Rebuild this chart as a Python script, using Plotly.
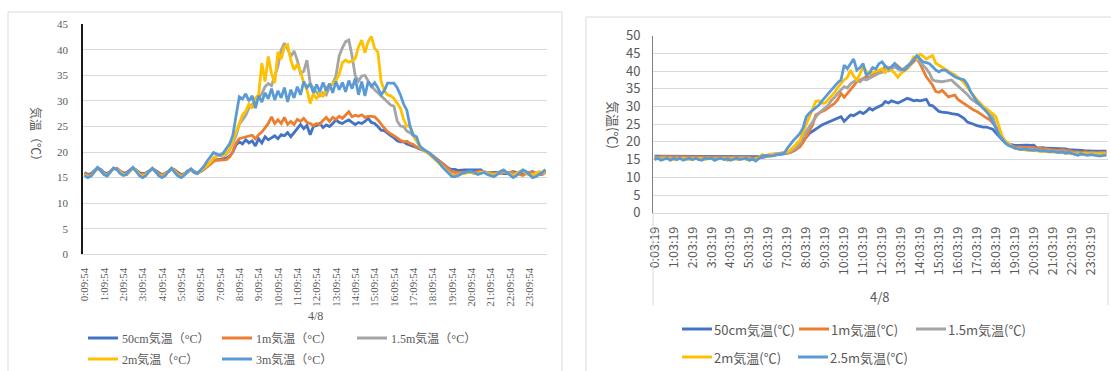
import plotly.graph_objects as go

W, H = 1111, 371

# ---------------- left chart: 4/8, 10-minute samples from 0:09:54 ----------------
left_times = [f"{h}:{m:02d}:54" for h in range(24) for m in (9, 19, 29, 39, 49, 59)]
left_ticks = [f"{h}:09:54" for h in range(24)]
left_names = ["50cm気温（°C）", "1m気温（°C）", "1.5m気温（°C）", "2m気温（°C）", "3m気温（°C）"]

left_50cm = [
    16.0, 15.6, 15.8, 16.4, 16.9, 16.6,
    16.0, 15.8, 16.2, 16.8, 16.8, 16.3,
    15.9, 16.0, 16.5, 16.9, 16.5, 16.0,
    15.8, 15.9, 16.3, 16.8, 16.4, 16.0,
    15.6, 15.8, 16.2, 16.8, 16.5, 16.0,
    15.6, 15.8, 16.3, 16.6, 16.2, 16.0,
    16.2, 16.6, 17.2, 17.6, 18.2, 18.5,
    18.6, 18.6, 18.8, 19.2, 20.0, 21.4,
    22.0, 21.6, 22.4, 21.8, 22.2, 21.2,
    22.6, 21.8, 23.0, 22.4, 22.8, 23.2,
    22.6, 23.4, 23.2, 23.8, 23.0, 23.9,
    24.6, 25.4, 24.6, 25.2, 23.4, 25.0,
    25.2, 25.6, 24.8, 25.3, 25.0, 25.6,
    26.3, 25.8, 25.6, 26.0, 26.3, 25.8,
    25.4, 25.8, 25.6, 26.0, 26.6, 25.8,
    25.6, 25.0, 24.3, 24.2, 23.6, 23.2,
    22.8, 22.2, 22.0, 22.0, 21.6, 21.4,
    21.2, 20.9, 20.6, 20.4, 20.1, 19.8,
    19.3, 18.8, 18.3, 17.8, 17.2, 16.8,
    16.6, 16.6, 16.4, 16.5, 16.5, 16.5,
    16.5, 16.5, 16.5, 16.5, 16.0, 16.0,
    16.0, 16.0, 16.0, 16.0, 15.8, 15.8,
    16.0, 16.2, 16.0, 15.8, 15.8, 15.8,
    16.0, 16.2, 15.8, 15.6, 15.8, 16.2,
]
left_1m = [
    15.8, 15.4, 15.6, 16.3, 16.9, 16.5,
    15.8, 15.6, 16.2, 16.8, 16.8, 16.2,
    15.7, 15.8, 16.4, 16.9, 16.4, 15.8,
    15.6, 15.8, 16.2, 16.8, 16.3, 15.8,
    15.5, 15.8, 16.2, 16.8, 16.4, 15.8,
    15.4, 15.7, 16.2, 16.6, 16.1, 15.9,
    16.2, 16.6, 17.1, 17.6, 18.2, 18.4,
    18.4, 18.4, 18.5, 19.0, 20.2, 21.8,
    22.6, 22.8, 23.0, 23.2, 23.3, 22.6,
    23.4, 23.9, 24.8, 25.6, 26.9, 25.6,
    26.3, 25.6, 26.8, 25.4, 26.0, 25.4,
    26.4, 26.0, 26.6, 25.8, 25.6, 25.2,
    25.6, 25.4, 26.2, 26.8, 26.0, 26.8,
    26.4, 27.0, 26.6, 27.3, 27.9, 26.9,
    27.2, 27.0, 27.3, 26.8, 27.0, 27.0,
    26.9, 26.3, 25.4, 24.7, 24.0, 23.6,
    23.3, 22.8, 22.3, 22.0, 22.1, 21.7,
    21.5, 21.0, 20.8, 20.4, 20.1, 19.8,
    19.3, 18.9, 18.4, 17.8, 17.2, 16.6,
    16.2, 16.0, 16.0, 16.0, 16.0, 16.0,
    16.0, 16.0, 16.2, 16.2, 16.0, 16.0,
    16.0, 15.8, 15.8, 15.8, 16.0, 16.0,
    16.0, 16.0, 15.8, 15.6, 15.4, 15.8,
    16.0, 16.0, 15.8, 15.6, 15.6, 16.0,
]
left_15m = [
    15.6, 15.2, 15.4, 16.2, 16.8, 16.4,
    15.7, 15.4, 16.0, 16.8, 16.6, 16.0,
    15.6, 15.6, 16.3, 16.9, 16.4, 15.6,
    15.3, 15.6, 16.2, 16.8, 16.2, 15.5,
    15.2, 15.6, 16.2, 16.8, 16.2, 15.5,
    15.2, 15.6, 16.1, 16.6, 16.0, 15.8,
    16.3, 16.8, 17.4, 18.0, 18.8, 19.2,
    19.4, 19.2, 19.6, 20.4, 21.8, 23.2,
    25.4, 26.3, 27.2, 28.6, 29.4, 30.0,
    30.6, 31.4, 32.8, 33.4, 33.0, 34.8,
    36.8, 40.0, 41.3, 40.2, 38.7, 39.8,
    38.0, 35.4, 35.8, 38.0, 33.5, 32.4,
    31.6, 31.0, 31.6, 31.2, 32.8, 33.4,
    34.9, 38.8, 40.4, 41.6, 41.9, 38.8,
    34.9, 33.9, 34.9, 35.0, 33.9, 33.0,
    32.2, 31.6, 31.0, 30.5, 30.0, 29.2,
    29.0, 26.1, 25.1, 25.0, 24.1, 23.8,
    23.2, 22.2, 21.2, 20.6, 20.1, 19.6,
    19.0, 18.5, 17.9, 17.2, 16.6, 16.0,
    15.6, 15.4, 15.5, 15.8, 16.0, 16.0,
    16.0, 15.8, 15.8, 16.0, 16.2, 16.0,
    15.8, 15.6, 15.8, 16.0, 16.2, 16.0,
    15.8, 15.6, 15.6, 16.0, 16.2, 15.8,
    15.6, 15.6, 15.8, 16.0, 15.8, 16.4,
]
left_2m = [
    15.6, 15.2, 15.4, 16.2, 16.8, 16.4,
    15.7, 15.4, 16.0, 16.8, 16.6, 16.0,
    15.6, 15.6, 16.3, 16.9, 16.4, 15.6,
    15.3, 15.6, 16.2, 16.8, 16.2, 15.5,
    15.2, 15.6, 16.2, 16.8, 16.2, 15.5,
    15.2, 15.6, 16.1, 16.6, 16.0, 15.8,
    16.3, 16.8, 17.4, 18.0, 18.8, 19.3,
    19.4, 19.3, 19.8, 20.6, 22.4, 24.0,
    25.6, 27.3, 28.0, 29.4, 28.6, 30.6,
    31.2, 37.4, 33.8, 38.7, 35.4, 33.5,
    39.6, 38.2, 40.6, 41.0, 38.0, 36.1,
    37.2, 35.8, 33.5, 32.2, 29.5, 31.4,
    30.4, 31.6, 30.8, 32.6, 33.0, 33.4,
    34.0, 35.2, 37.5, 38.0, 37.6, 37.8,
    38.3, 40.6, 41.9, 39.4, 41.6, 42.6,
    40.3, 39.6, 33.9, 32.0, 31.2, 31.0,
    30.5, 29.6, 28.6, 26.4, 25.1, 25.1,
    23.3, 22.4, 21.0, 20.5, 20.1, 19.6,
    19.0, 18.4, 17.8, 17.0, 16.4, 15.8,
    15.4, 15.4, 15.6, 15.8, 15.8, 16.0,
    16.0, 15.8, 15.8, 16.0, 16.0, 15.8,
    15.6, 15.6, 15.8, 16.2, 16.4, 16.0,
    15.6, 15.4, 15.8, 16.2, 16.4, 16.0,
    15.6, 15.6, 15.8, 16.2, 16.0, 16.0,
]
left_3m = [
    15.4, 15.0, 15.3, 16.2, 17.0, 16.4,
    15.6, 15.3, 16.0, 16.9, 16.6, 15.8,
    15.4, 15.6, 16.4, 17.0, 16.2, 15.4,
    15.0, 15.4, 16.2, 16.8, 16.2, 15.4,
    15.0, 15.4, 16.2, 16.8, 16.0, 15.3,
    15.0, 15.5, 16.2, 16.7, 16.0, 15.8,
    16.5, 17.2, 18.2, 19.0, 19.9, 19.6,
    19.4, 19.8, 20.7, 21.6, 23.3, 27.4,
    30.8, 30.4, 31.4, 30.0, 31.0, 28.6,
    31.0, 29.8, 31.6, 30.4, 32.4, 30.2,
    32.0, 30.6, 32.6, 29.8, 32.2, 30.6,
    32.8, 31.2, 33.8, 32.6, 33.4, 31.6,
    33.2, 31.8, 33.6, 32.0, 33.4, 31.6,
    33.8, 32.2, 33.6, 31.8, 34.0, 32.4,
    34.4, 31.2, 33.8, 31.0, 33.8, 32.8,
    33.6, 32.6, 31.2, 32.0, 33.5, 33.5,
    33.5, 32.6, 31.2, 29.4, 28.2, 25.0,
    23.3, 23.0, 21.2, 20.6, 20.2, 19.8,
    19.2, 18.6, 18.0, 17.1, 16.4, 15.8,
    15.2, 15.2, 15.4, 15.8, 16.0, 16.2,
    16.2, 16.0, 15.6, 15.8, 16.0, 15.6,
    15.4, 15.2, 15.6, 16.2, 16.5, 16.0,
    15.4, 15.0, 15.4, 16.0, 16.5, 16.2,
    15.6, 15.0, 15.2, 15.6, 16.0, 16.6,
]

# ---------------- right chart: 4/8, 10-minute samples from 0:03:19 ----------------
right_times = [f"{h}:{m:02d}:19" for h in range(24) for m in (3, 13, 23, 33, 43, 53)]
right_ticks = [f"{h}:03:19" for h in range(24)]
right_names = ["50cm気温(℃)", "1m気温(℃)", "1.5m気温(℃)", "2m気温(℃)", "2.5m気温(℃)"]

right_50cm = [
    16.0, 16.0, 16.0, 16.0, 16.0, 16.0,
    16.0, 16.0, 16.0, 16.0, 15.8, 16.0,
    16.0, 16.0, 16.0, 16.0, 16.0, 16.0,
    16.0, 16.0, 16.0, 15.8, 16.0, 16.0,
    16.0, 16.0, 16.0, 16.0, 16.0, 16.0,
    16.0, 16.0, 15.8, 15.8, 15.6, 15.8,
    16.2, 16.2, 16.4, 16.4, 16.4, 16.6,
    16.8, 17.0, 17.4, 18.0, 19.1, 20.2,
    21.4, 22.4, 23.0, 23.6, 24.3, 24.8,
    25.2, 25.6, 26.0, 26.4, 26.8, 27.1,
    25.8, 26.8, 27.6, 27.4, 28.0, 28.5,
    28.0, 28.6, 29.5, 29.0, 29.6, 30.0,
    30.4, 31.4, 31.0, 31.6, 31.4, 31.0,
    31.4, 31.8, 32.3, 32.0, 31.6, 31.8,
    31.6, 31.8, 32.0, 30.4, 30.2, 29.4,
    28.6, 28.4, 28.4, 28.2, 28.0, 27.8,
    27.7, 27.2, 26.6, 25.6, 25.4, 25.0,
    24.6, 24.3, 24.2, 24.2, 24.0, 23.6,
    22.6, 21.6, 20.6, 19.7, 19.4, 19.1,
    19.0, 19.0, 19.1, 19.1, 19.1, 19.0,
    19.1, 18.3, 18.4, 18.4, 18.2, 18.2,
    18.1, 18.1, 18.0, 18.2, 18.0, 17.8,
    17.8, 17.7, 17.6, 17.6, 17.5, 17.4,
    17.4, 17.4, 17.4, 17.4, 17.4, 17.4,
]
right_1m = [
    15.8, 15.6, 15.8, 15.8, 15.6, 15.8,
    15.8, 15.8, 15.6, 15.8, 15.8, 15.6,
    15.8, 15.8, 15.8, 15.6, 15.8, 15.8,
    15.6, 15.8, 15.8, 15.8, 15.6, 15.8,
    15.8, 15.6, 15.8, 15.8, 15.6, 15.6,
    15.6, 15.4, 15.4, 15.6, 16.0, 16.2,
    16.2, 16.4, 16.6, 16.6, 16.6, 16.8,
    16.8, 17.0, 17.6, 18.2, 18.6, 19.8,
    21.4, 23.2, 24.8, 27.6, 28.2, 28.6,
    29.0, 29.6, 30.2, 30.9, 32.0, 33.7,
    32.6, 33.6, 34.6, 35.8, 37.0, 37.4,
    38.0, 38.4, 38.2, 39.0, 39.4, 39.8,
    40.0, 41.4, 40.8, 41.2, 42.1, 41.4,
    40.6, 40.2, 40.7, 41.8, 42.6, 43.5,
    42.1, 40.0, 38.4, 37.2, 36.0, 34.2,
    34.0, 34.6, 33.6, 32.7, 33.0, 33.2,
    32.0, 31.4, 30.6, 30.0, 29.6, 29.0,
    28.6, 28.0, 27.2, 26.8, 26.3, 25.4,
    24.4, 22.6, 21.2, 20.2, 19.4, 18.8,
    18.6, 18.6, 18.6, 18.6, 18.5, 18.5,
    18.4, 18.2, 18.2, 18.0, 18.0, 17.9,
    17.8, 17.8, 17.6, 17.8, 17.6, 17.4,
    17.4, 17.2, 17.2, 17.0, 17.2, 17.0,
    17.0, 17.0, 16.8, 17.0, 17.0, 17.0,
]
right_15m = [
    15.4, 15.6, 15.4, 15.6, 15.4, 15.4,
    15.6, 15.4, 15.4, 15.6, 15.4, 15.6,
    15.4, 15.6, 15.6, 15.4, 15.4, 15.6,
    15.4, 15.4, 15.6, 15.4, 15.6, 15.4,
    15.6, 15.4, 15.6, 15.4, 15.4, 15.2,
    15.4, 15.2, 15.0, 15.4, 15.8, 16.2,
    16.2, 16.4, 16.5, 16.6, 16.8, 17.0,
    16.8, 17.2, 17.8, 18.6, 19.6, 21.6,
    23.0, 24.3, 25.8, 27.0, 28.1, 28.8,
    29.6, 30.4, 31.8, 32.6, 33.8, 34.6,
    35.6, 35.2, 36.4, 37.0, 37.5, 37.0,
    37.8, 37.5, 38.0, 38.4, 38.8, 39.4,
    39.6, 40.2, 40.0, 40.6, 41.2, 40.6,
    40.2, 40.8, 41.6, 42.4, 43.0, 43.5,
    42.6, 41.8, 40.7, 39.4, 37.5, 37.2,
    37.0, 37.0, 37.2, 37.4, 37.5, 36.6,
    35.8, 35.2, 34.2, 33.4, 32.3, 31.6,
    31.0, 30.5, 29.8, 29.0, 28.2, 27.2,
    24.4, 22.8, 21.4, 20.2, 19.4, 18.8,
    18.2, 18.2, 18.0, 18.0, 18.0, 18.0,
    17.8, 17.8, 17.6, 17.6, 17.6, 17.4,
    17.4, 17.4, 17.2, 17.4, 17.2, 17.0,
    17.0, 16.8, 17.0, 16.8, 16.6, 16.8,
    16.8, 16.6, 16.8, 16.6, 16.8, 16.8,
]
right_2m = [
    15.2, 15.4, 15.0, 15.4, 15.2, 15.4,
    15.0, 15.4, 15.2, 15.4, 15.2, 15.0,
    15.4, 15.2, 15.4, 15.2, 15.0, 15.4,
    15.2, 15.0, 15.4, 15.2, 15.4, 14.8,
    15.2, 15.4, 15.0, 15.2, 15.4, 15.0,
    15.2, 15.0, 15.2, 15.4, 16.4, 16.0,
    16.0, 16.6, 16.2, 16.4, 16.6, 16.8,
    17.2, 17.7, 18.6, 19.4, 20.5, 22.8,
    25.0, 27.1, 29.4, 31.4, 31.6, 30.9,
    31.0, 32.0, 33.2, 34.0, 35.4, 36.5,
    37.5, 38.2, 40.3, 38.6, 37.5, 39.2,
    41.2, 40.0, 39.4, 39.6, 40.0, 40.3,
    40.6, 39.6, 40.8, 40.2, 39.4, 38.2,
    39.4, 40.0, 40.8, 42.4, 44.0, 43.4,
    44.8, 44.2, 43.4, 44.0, 44.4, 42.2,
    41.6, 41.2, 40.4, 40.0, 39.4, 39.0,
    38.4, 37.6, 36.6, 35.4, 34.2, 33.0,
    31.9, 31.0, 30.0, 29.4, 28.6, 28.0,
    27.2, 24.4, 21.6, 20.2, 19.4, 18.8,
    18.2, 18.0, 17.8, 17.8, 17.6, 17.6,
    17.6, 17.4, 17.4, 17.2, 17.4, 17.2,
    17.2, 17.0, 17.0, 17.0, 16.8, 16.8,
    16.8, 16.6, 16.6, 16.4, 16.8, 16.6,
    16.6, 16.4, 16.6, 16.4, 16.6, 16.6,
]
right_25m = [
    15.0, 15.4, 14.8, 15.2, 15.4, 14.8,
    15.4, 15.0, 15.4, 14.8, 15.2, 15.4,
    15.0, 15.4, 15.0, 14.8, 15.4, 15.2,
    15.4, 14.8, 15.2, 15.4, 15.0, 15.2,
    14.8, 15.2, 15.4, 15.0, 15.2, 15.4,
    14.8, 15.2, 14.6, 15.4, 16.0, 16.2,
    16.0, 16.0, 16.2, 16.4, 16.6, 16.8,
    18.2, 19.4, 20.5, 21.4, 22.4, 24.0,
    27.1, 28.2, 29.0, 29.6, 30.4, 31.6,
    32.7, 33.8, 34.8, 36.0, 36.8, 37.5,
    41.7, 40.7, 42.0, 43.4, 40.3, 41.0,
    42.1, 38.8, 39.4, 41.0, 40.6, 42.1,
    42.6, 41.4, 40.7, 41.2, 42.1, 41.0,
    40.6, 40.3, 41.2, 42.1, 43.2, 44.4,
    43.4, 42.6, 42.4, 42.1, 41.2, 40.3,
    39.8, 40.3, 40.3, 39.6, 39.0, 38.4,
    38.0, 37.8, 37.5, 36.2, 34.2, 32.8,
    31.4, 30.4, 29.6, 28.6, 27.4, 25.8,
    23.9, 22.0, 20.8, 19.7, 19.0, 18.6,
    18.2, 18.0, 17.8, 18.0, 17.8, 17.6,
    17.6, 17.8, 17.4, 17.6, 17.4, 17.2,
    17.4, 17.2, 17.0, 17.2, 16.8, 17.0,
    16.8, 16.6, 16.2, 16.6, 16.4, 16.2,
    16.4, 16.2, 16.2, 16.0, 16.2, 16.2,
]

colors = ["#4472C4", "#ED7D31", "#A5A5A5", "#FFC000", "#5B9BD5"]
left_series = [left_50cm, left_1m, left_15m, left_2m, left_3m]
right_series = [right_50cm, right_1m, right_15m, right_2m, right_25m]

SERIF = "Liberation Serif, Noto Sans CJK JP, serif"
SANS = "Noto Sans CJK JP, Noto Sans, sans-serif"
GRID = "#d9d9d9"
TXT = "#595959"


def px(x):
    return x / W


def py(y):
    return 1 - y / H


fig = go.Figure()
for name, vals, c in zip(left_names, left_series, colors):
    fig.add_trace(go.Scatter(x=left_times, y=vals, name=name, mode="lines",
                             line=dict(color=c, width=2.8), xaxis="x", yaxis="y",
                             showlegend=False))
for name, vals, c in zip(right_names, right_series, colors):
    fig.add_trace(go.Scatter(x=right_times, y=vals, name=name, mode="lines",
                             line=dict(color=c, width=2.8), xaxis="x2", yaxis="y2",
                             showlegend=False))

fig.update_layout(
    width=W, height=H, margin=dict(l=0, r=0, t=0, b=0, autoexpand=False),
    paper_bgcolor="white", plot_bgcolor="white",
    xaxis=dict(domain=[px(83), px(547)], type="category", range=[-0.5, 143.5],
               tickmode="array", tickvals=left_ticks, ticktext=left_ticks,
               tickangle=-90, showgrid=False, showline=True, linecolor=GRID,
               linewidth=1, ticks="", ticklabelstandoff=8, automargin=False,
               tickfont=dict(family=SERIF, size=11, color=TXT)),
    yaxis=dict(domain=[py(254.3), py(24.3)], range=[0, 45], dtick=5,
               showgrid=True, gridcolor=GRID, gridwidth=1, zeroline=False,
               showline=True, linecolor="#1a1a1a", linewidth=1.6, ticks="",
               ticklabelstandoff=11, automargin=False,
               tickfont=dict(family=SERIF, size=11, color=TXT)),
    xaxis2=dict(domain=[px(653), px(1108)], type="category", range=[-0.5, 143.5],
                tickmode="array", tickvals=right_ticks, ticktext=right_ticks,
                tickangle=-90, showgrid=False, showline=True, linecolor=GRID,
                linewidth=1, ticks="", ticklabelstandoff=8, anchor="y2",
                automargin=False,
                tickfont=dict(family=SANS, size=12.5, color=TXT)),
    yaxis2=dict(domain=[py(212.7), py(35.7)], range=[0, 50], dtick=5, anchor="x2",
                showgrid=True, gridcolor=GRID, gridwidth=1, zeroline=False,
                showline=True, linecolor="#7f7f7f", linewidth=1, ticks="",
                ticklabelstandoff=9, automargin=False,
                tickfont=dict(family=SANS, size=13, color=TXT)),
)

shapes = [
    # chart frames
    dict(type="rect", xref="paper", yref="paper", x0=px(8), x1=px(562),
         y0=py(385), y1=py(12), line=dict(color=GRID, width=1)),
    dict(type="rect", xref="paper", yref="paper", x0=px(586), x1=px(1125),
         y0=py(385), y1=py(17), line=dict(color=GRID, width=1)),
    # plot-area border below the right chart's axis
    dict(type="line", xref="paper", yref="paper", x0=px(653), x1=px(653),
         y0=py(305), y1=py(212.7), line=dict(color=GRID, width=1)),
    dict(type="line", xref="paper", yref="paper", x0=px(1108), x1=px(1108),
         y0=py(305), y1=py(212.7), line=dict(color=GRID, width=1)),
]


def label(text, x, y, family, size, angle=0, xanchor="center"):
    return dict(text=text, x=px(x), y=py(y), xref="paper", yref="paper",
                xanchor=xanchor, yanchor="middle", textangle=angle,
                showarrow=False, font=dict(family=family, size=size, color=TXT))


annotations = [
    label("気温（℃）", 36, 137, SERIF, 12, angle=90),
    label("気温(℃)", 614, 125, SANS, 13, angle=90),
    label("4/8", 315, 316, SERIF, 12),
    label("4/8", 880, 296, SANS, 13),
]

# legend keys and labels
left_key_pos = [(88, 338), (222, 338), (357, 338), (88, 359), (222, 359)]
right_key_pos = [(682, 329), (799, 329), (916, 329), (682, 357), (798, 357)]
for (x, y), name, c in zip(left_key_pos, left_names, colors):
    shapes.append(dict(type="line", xref="paper", yref="paper", x0=px(x), x1=px(x + 30),
                       y0=py(y), y1=py(y), line=dict(color=c, width=3)))
    annotations.append(label(name, x + 32, y, SERIF, 12, xanchor="left"))
for (x, y), name, c in zip(right_key_pos, right_names, colors):
    shapes.append(dict(type="line", xref="paper", yref="paper", x0=px(x), x1=px(x + 30),
                       y0=py(y), y1=py(y), line=dict(color=c, width=3)))
    annotations.append(label(name, x + 30, y, SANS, 13, xanchor="left"))

fig.update_layout(shapes=shapes, annotations=annotations)
fig.write_html("out.html")
